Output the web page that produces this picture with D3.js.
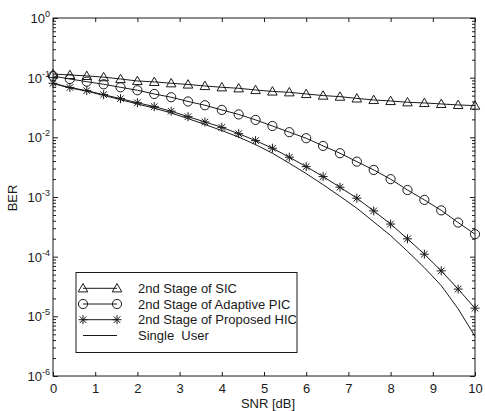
<!DOCTYPE html>
<html><head><meta charset="utf-8">
<script src="https://cdn.jsdelivr.net/npm/d3@7"></script>
<style>
body{margin:0;background:#fff}
svg text{font-family:"Liberation Sans",Arial,Helvetica,sans-serif;fill:#1a1a1a}
</style>
</head><body>
<svg id="chart" width="485" height="411"></svg>
<script>
const snr = [0,0.4,0.8,1.2,1.6,2,2.4,2.8,3.2,3.6,4,4.4,4.8,5.2,5.6,6,6.4,6.8,7.2,7.6,8,8.4,8.8,9.2,9.6,10];
const sic = [0.115,0.111,0.107,0.102,0.095,0.088,0.085,0.0806,0.0769,0.0726,0.069,0.0664,0.0622,0.0587,0.0569,0.0533,0.0501,0.0481,0.0449,0.0423,0.0407,0.0387,0.0377,0.0363,0.0349,0.034];
const pic = [0.1067,0.0951,0.0857,0.0775,0.069,0.0615,0.0533,0.047,0.0399,0.0345,0.0288,0.0242,0.0196,0.0155,0.0122,0.00966,0.00718,0.00542,0.00392,0.00284,0.00199,0.00131,0.000894,0.000597,0.000373,0.000238];
const hic = [0.0805,0.0685,0.0606,0.0519,0.0445,0.038,0.0327,0.0274,0.0222,0.0181,0.0147,0.0115,0.00881,0.00657,0.00464,0.00323,0.0022,0.00146,0.000955,0.000585,0.000352,0.000199,0.00011,0.0000578,0.0000286,0.0000137];
const single = [0.08,0.0672,0.0594,0.0505,0.0428,0.0362,0.0308,0.0256,0.0206,0.0164,0.013,0.0101,0.00755,0.00542,0.00368,0.00247,0.00161,0.00103,0.000649,0.000383,0.000226,0.000123,0.0000654,0.0000327,0.0000134,0.00000462];
const xTicks = [0,1,2,3,4,5,6,7,8,9,10];
const yTicks = [1e-6,1e-5,1e-4,1e-3,1e-2,1e-1,1];
const yExponents = ["-6","-5","-4","-3","-2","-1","0"];
const seriesNames = ["2nd Stage of SIC","2nd Stage of Adaptive PIC","2nd Stage of Proposed HIC","Single  User"];
const xLabel = "SNR [dB]";
const yLabel = "BER";

const svg = d3.select("#chart");
const L = 53, R = 475, T = 18, B = 376;
const ink = "#1a1a1a";
const x = d3.scaleLinear().domain([0,10]).range([L,R]);
const y = d3.scaleLog().domain([1e-6,1]).range([B,T]);

svg.append("rect").attr("width",485).attr("height",411).attr("fill","#fff");

// minor ticks
const minor = [];
yTicks.slice(0,-1).forEach(d => { for (let k=2;k<=9;k++) minor.push(d*k); });

function styleAxis(g){
  g.select(".domain").remove();
  g.selectAll("line").attr("stroke",ink);
}
// bottom
svg.append("g").attr("transform",`translate(0,${B})`)
  .call(d3.axisBottom(x).tickValues(xTicks).tickSize(-4).tickPadding(7.5).tickFormat(d3.format("d")))
  .call(styleAxis)
  .call(g=>g.selectAll("text").attr("font-size",13).attr("fill",ink).attr("font-family","Liberation Sans, Arial, sans-serif"));
// top
svg.append("g").attr("transform",`translate(0,${T})`)
  .call(d3.axisTop(x).tickValues(xTicks).tickSize(-4).tickFormat(""))
  .call(styleAxis);
// left major
const leftG = svg.append("g").attr("transform",`translate(${L},0)`)
  .call(d3.axisLeft(y).tickValues(yTicks).tickSize(-5).tickFormat(""))
  .call(styleAxis);
leftG.selectAll(".tick").each(function(d,i){
  const t = d3.select(this).append("text")
    .attr("x",-3).attr("y",4.5).attr("text-anchor","end")
    .attr("font-size",13).attr("fill",ink)
    .attr("font-family","Liberation Sans, Arial, sans-serif");
  t.append("tspan").text("10");
  t.append("tspan").attr("dy",-6).attr("font-size",9).text(yExponents[i]);
});
// left minor
svg.append("g").attr("transform",`translate(${L},0)`)
  .call(d3.axisLeft(y).tickValues(minor).tickSize(-3).tickFormat(""))
  .call(styleAxis);
// right major/minor
svg.append("g").attr("transform",`translate(${R},0)`)
  .call(d3.axisRight(y).tickValues(yTicks).tickSize(-5).tickFormat(""))
  .call(styleAxis);
svg.append("g").attr("transform",`translate(${R},0)`)
  .call(d3.axisRight(y).tickValues(minor).tickSize(-3).tickFormat(""))
  .call(styleAxis);

// frame
svg.append("rect").attr("x",L).attr("y",T).attr("width",R-L).attr("height",B-T)
  .attr("fill","none").attr("stroke",ink).attr("stroke-width",1);

// axis labels
svg.append("text").attr("x",268).attr("y",407.5).attr("text-anchor","middle")
  .attr("font-size",13).text(xLabel);
svg.append("text").attr("transform","translate(17,198) rotate(-90)").attr("text-anchor","middle")
  .attr("font-size",13).text(yLabel);

// markers
const tri = "M0,-4.8L4.8,3.6L-4.8,3.6Z";
const star = "M-4.5,0H4.5M0,-4.5V4.5M-3.3,-3.3L3.3,3.3M-3.3,3.3L3.3,-3.3";
function marker(g, type, cx, cy){
  if (type==="tri") g.append("path").attr("d",tri).attr("transform",`translate(${cx},${cy})`)
      .attr("fill","none").attr("stroke",ink).attr("stroke-width",1);
  else if (type==="circ") g.append("circle").attr("cx",cx).attr("cy",cy).attr("r",4.6)
      .attr("fill","none").attr("stroke",ink).attr("stroke-width",1);
  else if (type==="star") g.append("path").attr("d",star).attr("transform",`translate(${cx},${cy})`)
      .attr("fill","none").attr("stroke",ink).attr("stroke-width",1);
}
const line = d3.line().x((d,i)=>x(snr[i])).y(d=>y(d));
const series = [
  {vals:sic, m:"tri"},
  {vals:pic, m:"circ"},
  {vals:hic, m:"star"},
  {vals:single, m:null}
];
const plot = svg.append("g");
series.forEach(s=>{
  plot.append("path").datum(s.vals).attr("d",line).attr("fill","none")
    .attr("stroke",ink).attr("stroke-width",1);
  if (s.m) s.vals.forEach((v,i)=>marker(plot,s.m,x(snr[i]),y(v)));
});

// legend
const lg = svg.append("g");
lg.append("rect").attr("x",76).attr("y",272.5).attr("width",221).attr("height",80)
  .attr("fill","#fff").attr("stroke",ink).attr("stroke-width",1);
const rowY = [288.3,304,319.7,335.5];
series.forEach((s,i)=>{
  const yy = rowY[i];
  lg.append("line").attr("x1",83).attr("x2",117).attr("y1",yy).attr("y2",yy)
    .attr("stroke",ink).attr("stroke-width",1);
  if (s.m){ marker(lg,s.m,83,yy); marker(lg,s.m,117,yy); }
  lg.append("text").attr("x",138).attr("y",yy+4.5).attr("font-size",13)
    .style("white-space","pre").text(seriesNames[i]);
});
</script>
</body></html>
